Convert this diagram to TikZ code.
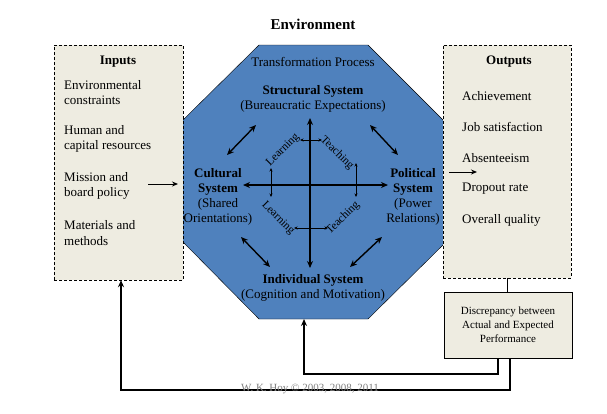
\documentclass[tikz,border=0pt]{standalone}
\usepackage{fontspec}
\setmainfont{Liberation Serif}
\usetikzlibrary{arrows.meta}
\definecolor{octblue}{HTML}{4F81BD}
\definecolor{boxbeige}{HTML}{EEECE1}
\tikzset{
  sidebox/.style={draw,dash pattern=on 3pt off 2pt,fill=boxbeige,inner sep=0pt},
  itemtext/.style={anchor=west,align=left,inner sep=0pt,font=\fontsize{13}{15.5}\selectfont},
  headtext/.style={font=\bfseries\fontsize{13}{15}\selectfont},
  systext/.style={align=center,font=\fontsize{13}{15}\selectfont},
  bigarrow/.style={<->,line width=1.4pt,>={Stealth[length=7pt,width=6pt]}},
  smallarrow/.style={<->,line width=0.6pt,>={Stealth[length=3.5pt,width=3pt]}},
  flowarrow/.style={->,line width=1pt,>={Stealth[length=6pt,width=5pt]}},
  feedback/.style={->,line width=1.6pt,>={Stealth[length=7pt,width=6pt,open]}},
  diagtext/.style={inner sep=0pt,font=\fontsize{11.5}{13}\selectfont},
}
\begin{document}
\begin{tikzpicture}[x=1pt,y=-1pt]
\useasboundingbox (0,0) rectangle (607,413);
% title
\node[font=\bfseries\fontsize{15}{17}\selectfont] (env) at (313,24) {Environment};
% transformation octagon
\fill[octblue] (259,45) -- (368,45) -- (443,120) -- (443,245) -- (368,319)
  -- (259,319) -- (183,242) -- (183,120) -- cycle;
\draw (183,120) -- (259,45) -- (368,45) -- (443,120);
\draw (443,245) -- (368,319) -- (259,319) -- (183,242);
% side boxes
\node[sidebox,minimum width=129pt,minimum height=235pt] (inputs) at (118.5,162.5) {};
\node[sidebox,minimum width=128pt,minimum height=233pt] (outputs) at (507,161.5) {};
\node[draw,fill=boxbeige,minimum width=128pt,minimum height=66pt,align=center,
  font=\fontsize{11}{14}\selectfont] (disc) at (508,325)
  {Discrepancy between\\Actual and Expected\\Performance};
% inputs
\node[headtext] (in-head) at (118,62) {Inputs};
\node[itemtext] (in-1) at (64,92.5) {Environmental\\constraints};
\node[itemtext] (in-2) at (64,139) {Human and\\capital resources};
\node[itemtext] (in-3) at (64,186) {Mission and\\board policy};
\node[itemtext] (in-4) at (64,233) {Materials and\\methods};
% outputs
\node[headtext] (out-head) at (509,62) {Outputs};
\node[itemtext] (out-1) at (462,96) {Achievement};
\node[itemtext] (out-2) at (462,127) {Job satisfaction};
\node[itemtext] (out-3) at (462,158) {Absenteeism};
\node[itemtext] (out-4) at (462,189) {Dropout rate};
\node[itemtext] (out-5) at (462,220) {Overall quality};
% systems
\node[systext] (trans) at (313,62) {Transformation Process};
\node[systext] (structural) at (313,99) {\textbf{Structural System}\\(Bureaucratic Expectations)};
\node[systext] (cultural) at (218,197) {\textbf{Cultural}\\\textbf{System}\\(Shared\\Orientations)};
\node[systext] (political) at (413,197) {\textbf{Political}\\\textbf{System}\\(Power\\Relations)};
\node[systext] (individual) at (313,288) {\textbf{Individual System}\\(Cognition and Motivation)};
% axes
\coordinate (ax-top) at (310,118);
\coordinate (ax-bot) at (310,268);
\coordinate (ax-left) at (243,185);
\coordinate (ax-right) at (388,185);
\draw[bigarrow,line width=2pt] (ax-top) -- (ax-bot);
\draw[bigarrow,line width=2pt] (ax-left) -- (ax-right);
% diagonal links
\coordinate (ul-a) at (227,155); \coordinate (ul-b) at (256,125);
\coordinate (ur-a) at (370,125); \coordinate (ur-b) at (398,155);
\coordinate (ll-a) at (241,237); \coordinate (ll-b) at (270,267);
\coordinate (lr-a) at (350,267); \coordinate (lr-b) at (382,237);
\draw[bigarrow] (ul-a) -- (ul-b);
\draw[bigarrow] (ur-a) -- (ur-b);
\draw[bigarrow] (ll-a) -- (ll-b);
\draw[bigarrow] (lr-a) -- (lr-b);
% learning and teaching
\coordinate (lt-top-a) at (300,140); \coordinate (lt-top-b) at (322,140);
\coordinate (lt-left-a) at (271,168); \coordinate (lt-left-b) at (271,197);
\coordinate (lt-right-a) at (356,163); \coordinate (lt-right-b) at (356,197);
\coordinate (lt-bot-a) at (294,228); \coordinate (lt-bot-b) at (328,228);
\draw[smallarrow] (lt-top-a) -- (lt-top-b);
\draw[smallarrow] (lt-left-a) -- (lt-left-b);
\draw[smallarrow] (lt-right-a) -- (lt-right-b);
\draw[smallarrow] (lt-bot-a) -- (lt-bot-b);
\node[diagtext,rotate=45] (learn-1) at (283,150) {Learning};
\node[diagtext,rotate=-45] (teach-1) at (337,153) {Teaching};
\node[diagtext,rotate=-45] (learn-2) at (278,218) {Learning};
\node[diagtext,rotate=45] (teach-2) at (343,218) {Teaching};
% flow
\coordinate (in-tail) at (148,184); \coordinate (in-tip) at (178,184);
\coordinate (out-tail) at (449,172); \coordinate (out-tip) at (477,172);
\draw[flowarrow] (in-tail) -- (in-tip);
\draw[flowarrow] (out-tail) -- (out-tip);
\draw (outputs.south) -- (outputs.south |- disc.north);
% feedback loops
\coordinate (trans-bottom) at (304,319);
\draw[feedback] ([xshift=-10pt]disc.south) -- ++(0,16) -| (trans-bottom);
\draw[feedback] ([xshift=2pt]disc.south) -- ++(0,32) -| ([xshift=2.5pt]inputs.south);
\node[text=gray,font=\fontsize{11}{13}\selectfont] (copy) at (310,389) {W. K. Hoy © 2003, 2008, 2011};
\end{tikzpicture}
\end{document}
